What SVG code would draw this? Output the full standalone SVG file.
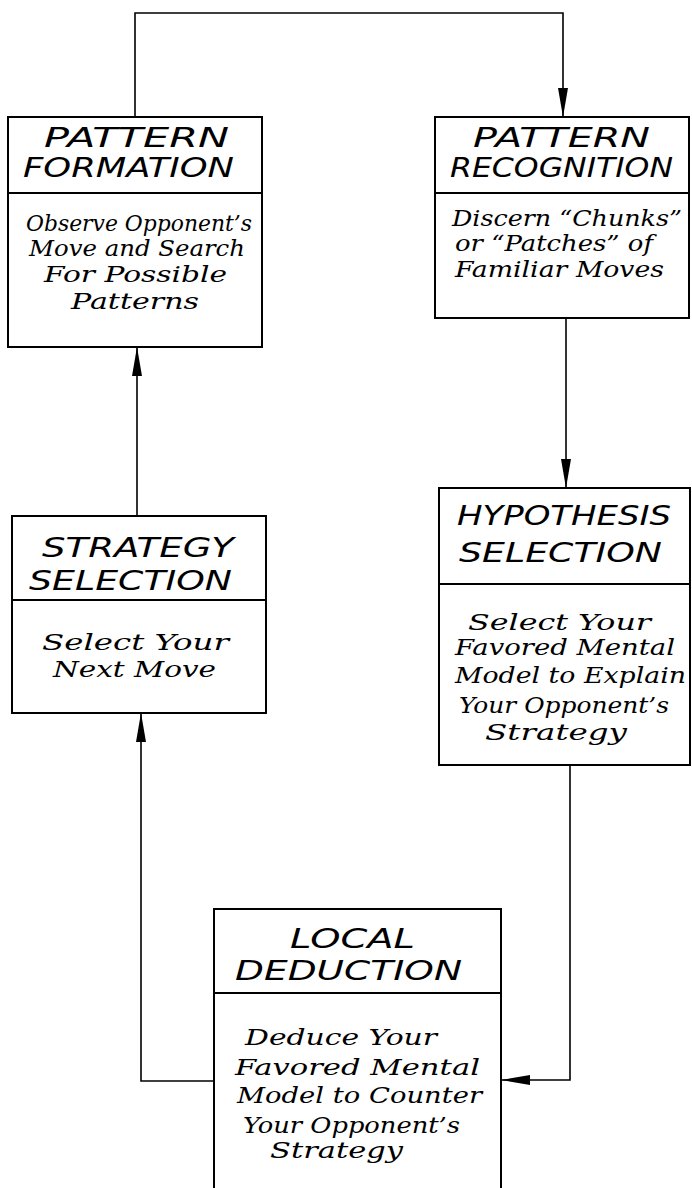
<svg xmlns="http://www.w3.org/2000/svg" width="692" height="1188" viewBox="0 0 692 1188">
  <style>
    .box { fill: #fff; stroke: #000; stroke-width: 2; }
    .div { stroke: #000; stroke-width: 2; }
    .wire { fill: none; stroke: #000; stroke-width: 1.6; }
    .title { font-family: "DejaVu Sans", "Liberation Sans", sans-serif; font-style: oblique; font-size: 26px; fill: #000; }
    .body { font-family: "DejaVu Serif", "Liberation Serif", serif; font-style: italic; font-size: 22px; fill: #000; }
  </style>
  <defs>
    <marker id="arrow" markerUnits="userSpaceOnUse" markerWidth="30" markerHeight="11" refX="29" refY="5" orient="auto">
      <path d="M0,0 L29,5 L0,10 z" fill="#000"/>
    </marker>
  </defs>
  <rect width="692" height="1188" fill="#fff"/>

  <g id="connectors">
    <path class="wire" d="M135,117 V13 H563 V117" marker-end="url(#arrow)"/>
    <path class="wire" d="M566,318 V488" marker-end="url(#arrow)"/>
    <path class="wire" d="M137,516 V347" marker-end="url(#arrow)"/>
    <path class="wire" d="M214,1081 H141 V713" marker-end="url(#arrow)"/>
    <path class="wire" d="M570,765 V1080 H501" marker-end="url(#arrow)"/>
  </g>

  <g id="pattern-formation">
    <rect class="box" x="8" y="117" width="254" height="230"/>
    <line class="div" x1="8" y1="193" x2="262" y2="193"/>
    <text class="title" x="44" y="147" textLength="185" lengthAdjust="spacingAndGlyphs">PATTERN</text>
    <text class="title" x="23" y="177" textLength="211" lengthAdjust="spacingAndGlyphs">FORMATION</text>
    <text class="body" x="26" y="231" textLength="226" lengthAdjust="spacingAndGlyphs">Observe Opponent’s</text>
    <text class="body" x="29" y="256" textLength="216" lengthAdjust="spacingAndGlyphs">Move and Search</text>
    <text class="body" x="44" y="282" textLength="183" lengthAdjust="spacingAndGlyphs">For Possible</text>
    <text class="body" x="71" y="309" textLength="128" lengthAdjust="spacingAndGlyphs">Patterns</text>
  </g>

  <g id="pattern-recognition">
    <rect class="box" x="435" y="117" width="254" height="201"/>
    <line class="div" x1="435" y1="193" x2="689" y2="193"/>
    <text class="title" x="473" y="147" textLength="177" lengthAdjust="spacingAndGlyphs">PATTERN</text>
    <text class="title" x="450" y="177" textLength="223" lengthAdjust="spacingAndGlyphs">RECOGNITION</text>
    <text class="body" x="452" y="226" textLength="230" lengthAdjust="spacingAndGlyphs">Discern “Chunks”</text>
    <text class="body" x="455" y="251" textLength="198" lengthAdjust="spacingAndGlyphs">or “Patches” of</text>
    <text class="body" x="455" y="277" textLength="209" lengthAdjust="spacingAndGlyphs">Familiar Moves</text>
  </g>

  <g id="strategy-selection">
    <rect class="box" x="12" y="516" width="254" height="197"/>
    <line class="div" x1="12" y1="600" x2="266" y2="600"/>
    <text class="title" x="42" y="557" textLength="192" lengthAdjust="spacingAndGlyphs">STRATEGY</text>
    <text class="title" x="29" y="590" textLength="203" lengthAdjust="spacingAndGlyphs">SELECTION</text>
    <text class="body" x="42" y="650" textLength="187" lengthAdjust="spacingAndGlyphs">Select Your</text>
    <text class="body" x="53" y="677" textLength="163" lengthAdjust="spacingAndGlyphs">Next Move</text>
  </g>

  <g id="hypothesis-selection">
    <rect class="box" x="439" y="488" width="251" height="277"/>
    <line class="div" x1="439" y1="584" x2="690" y2="584"/>
    <text class="title" x="457" y="525" textLength="214" lengthAdjust="spacingAndGlyphs">HYPOTHESIS</text>
    <text class="title" x="459" y="562" textLength="203" lengthAdjust="spacingAndGlyphs">SELECTION</text>
    <text class="body" x="468" y="630" textLength="183" lengthAdjust="spacingAndGlyphs">Select Your</text>
    <text class="body" x="455" y="655" textLength="220" lengthAdjust="spacingAndGlyphs">Favored Mental</text>
    <text class="body" x="455" y="683" textLength="231" lengthAdjust="spacingAndGlyphs">Model to Explain</text>
    <text class="body" x="459" y="713" textLength="210" lengthAdjust="spacingAndGlyphs">Your Opponent’s</text>
    <text class="body" x="485" y="740" textLength="142" lengthAdjust="spacingAndGlyphs">Strategy</text>
  </g>

  <g id="local-deduction">
    <rect class="box" x="214" y="909" width="287" height="300"/>
    <line class="div" x1="214" y1="993" x2="501" y2="993"/>
    <text class="title" x="290" y="948" textLength="125" lengthAdjust="spacingAndGlyphs">LOCAL</text>
    <text class="title" x="235" y="980" textLength="227" lengthAdjust="spacingAndGlyphs">DEDUCTION</text>
    <text class="body" x="245" y="1045" textLength="192" lengthAdjust="spacingAndGlyphs">Deduce Your</text>
    <text class="body" x="235" y="1075" textLength="245" lengthAdjust="spacingAndGlyphs">Favored Mental</text>
    <text class="body" x="237" y="1103" textLength="245" lengthAdjust="spacingAndGlyphs">Model to Counter</text>
    <text class="body" x="243" y="1133" textLength="217" lengthAdjust="spacingAndGlyphs">Your Opponent’s</text>
    <text class="body" x="270" y="1158" textLength="133" lengthAdjust="spacingAndGlyphs">Strategy</text>
  </g>
</svg>
